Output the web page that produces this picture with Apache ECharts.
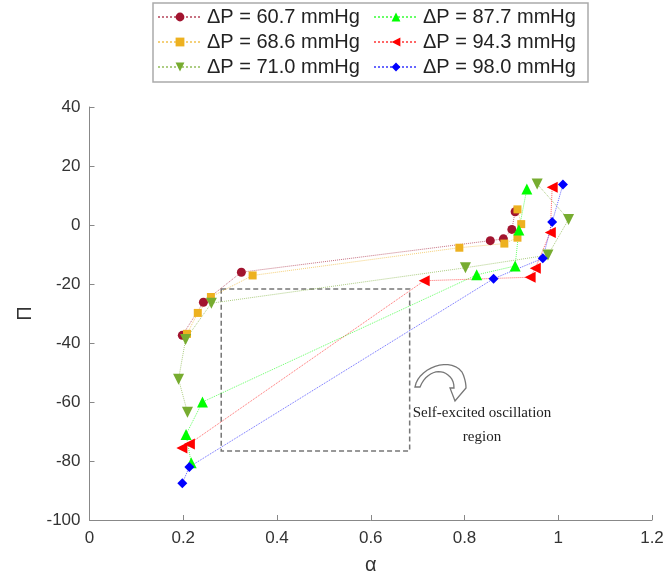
<!DOCTYPE html>
<html>
<head>
<meta charset="utf-8">
<script src="https://cdn.jsdelivr.net/npm/echarts@6/dist/echarts.min.js"></script>
<style>
html, body { margin: 0; padding: 0; background: #fff; }
#chart { width: 665px; height: 580px; }
</style>
</head>
<body>
<div id="chart"></div>
<script>
var names = ['ΔP = 60.7 mmHg', 'ΔP = 68.6 mmHg', 'ΔP = 71.0 mmHg', 'ΔP = 87.7 mmHg', 'ΔP = 94.3 mmHg', 'ΔP = 98.0 mmHg'];

var alpha60 = [0.198, 0.243, 0.324, 0.855, 0.883, 0.901, 0.908];
var pi60 = [-37.4, -26.2, -16.0, -5.3, -4.7, -1.5, 4.5];

var alpha68 = [0.208, 0.231, 0.259, 0.348, 0.789, 0.885, 0.913, 0.921, 0.913];
var pi68 = [-36.9, -29.8, -24.4, -17.1, -7.7, -6.3, -4.3, 0.3, 5.3];

var alpha71 = [0.209, 0.190, 0.205, 0.260, 0.802, 0.978, 1.022, 0.955];
var pi71 = [-63.5, -52.3, -38.8, -26.5, -14.5, -10.2, 1.9, 13.9];

var alpha87 = [0.217, 0.206, 0.241, 0.826, 0.908, 0.916, 0.933];
var pi87 = [-80.6, -71.0, -60.0, -16.9, -13.9, -1.7, 12.2];

var alpha94 = [0.197, 0.213, 0.714, 0.940, 0.951, 0.983, 0.987];
var pi94 = [-75.6, -74.2, -18.9, -17.7, -14.7, -2.5, 12.8];

var alpha98 = [0.198, 0.213, 0.862, 0.967, 0.987, 1.010];
var pi98 = [-87.5, -82.0, -18.2, -11.3, 1.0, 13.7];

// dashed box of the self-excited region [alpha, pi]
var regionBox = [[0.281, -21.7], [0.683, -76.6]];

var colors = ['#A2142F', '#EDB120', '#77AC30', '#00FF00', '#FF0000', '#0000FF'];
var symbols = ['circle', 'rect', 'triangle', 'triangle', 'triangle', 'diamond'];
var rotates = [0, 0, 180, 0, 90, 0];
var sizes = [9, 8, 11, 11, 11, 10];
var xs = [alpha60, alpha68, alpha71, alpha87, alpha94, alpha98];
var ys = [pi60, pi68, pi71, pi87, pi94, pi98];

var font = '"Liberation Sans", Arial, sans-serif';

// outline of the curved arrow icon, sampled from a few bezier pieces
function bez(p0, p1, p2, p3, n) {
    var pts = [];
    for (var k = 1; k <= n; k++) {
        var t = k / n, u = 1 - t;
        pts.push([
            u * u * u * p0[0] + 3 * u * u * t * p1[0] + 3 * u * t * t * p2[0] + t * t * t * p3[0],
            u * u * u * p0[1] + 3 * u * u * t * p1[1] + 3 * u * t * t * p2[1] + t * t * t * p3[1]
        ]);
    }
    return pts;
}
var arrowPts = [[415, 387]]
    .concat(bez([415, 387], [418, 368], [450, 356], [462, 372], 14))
    .concat(bez([462, 372], [465, 378], [466, 384], [466, 388], 5))
    .concat([[455, 401], [450, 388], [454, 388]])
    .concat(bez([454, 388], [454, 382], [452, 378], [448, 375], 5))
    .concat(bez([448, 375], [440, 368], [426, 372], [420, 387], 12));

var series = names.map(function (n, i) {
    return {
        name: n,
        type: 'line',
        data: xs[i].map(function (a, j) { return [a, ys[i][j]]; }),
        symbol: symbols[i],
        symbolRotate: rotates[i],
        symbolSize: sizes[i],
        showAllSymbol: true,
        itemStyle: { color: colors[i] },
        lineStyle: { color: colors[i], width: 1, type: 'dotted', opacity: 0.6 },
        emphasis: { disabled: true },
        z: 2
    };
});
series[0].markArea = {
    silent: true,
    itemStyle: { color: 'rgba(0,0,0,0)', borderColor: '#777', borderWidth: 1.5, borderType: [5, 3] },
    data: [[{ coord: regionBox[0] }, { coord: regionBox[1] }]]
};

var legendBase = {
    orient: 'vertical',
    top: 7,
    padding: 0,
    itemWidth: 44,
    itemHeight: 11,
    itemGap: 5,
    textStyle: { fontFamily: font, fontSize: 20, color: '#222' }
};

var myChart = echarts.init(document.getElementById('chart'));
var option = {
    animation: false,
    backgroundColor: '#fff',
    legend: [
        Object.assign({ left: 157, data: names.slice(0, 3) }, legendBase),
        Object.assign({ left: 373, data: names.slice(3) }, legendBase)
    ],
    grid: { left: 89.5, right: 13, top: 107, bottom: 60, containLabel: false, outerBoundsMode: 'none' },
    xAxis: {
        type: 'value', min: 0, max: 1.2, interval: 0.2,
        name: 'α', nameLocation: 'middle', nameGap: 35,
        nameTextStyle: { fontFamily: font, fontSize: 20, color: '#333' },
        axisLine: { onZero: false, lineStyle: { color: '#888', width: 1 } },
        axisTick: { inside: true, length: 5, lineStyle: { color: '#888' } },
        axisLabel: { fontFamily: font, fontSize: 17, color: '#333', margin: 10 },
        splitLine: { show: false }
    },
    yAxis: {
        type: 'value', min: -100, max: 40, interval: 20,
        name: 'Π', nameLocation: 'middle', nameGap: 46,
        nameTextStyle: { fontFamily: font, fontSize: 20, color: '#333' },
        axisLine: { show: true, onZero: false, lineStyle: { color: '#888', width: 1 } },
        axisTick: { show: true, inside: true, length: 5, lineStyle: { color: '#888' } },
        axisLabel: { fontFamily: font, fontSize: 17, color: '#333', margin: 9 },
        splitLine: { show: false }
    },
    graphic: [
        {
            type: 'rect', z: -1,
            shape: { x: 153, y: 3, width: 435, height: 79 },
            style: { fill: '#fff', stroke: '#aaa', lineWidth: 1.5 }
        },
        {
            type: 'polygon',
            shape: { points: arrowPts },
            style: { fill: 'none', stroke: '#777', lineWidth: 1.3 }
        },
        {
            type: 'text', x: 482, y: 413,
            style: { text: 'Self-excited oscillation', font: '15px "Liberation Serif", "Times New Roman", serif', fill: '#222', align: 'center', verticalAlign: 'middle' }
        },
        {
            type: 'text', x: 482, y: 437,
            style: { text: 'region', font: '15px "Liberation Serif", "Times New Roman", serif', fill: '#222', align: 'center', verticalAlign: 'middle' }
        }
    ],
    series: series
};
myChart.setOption(option);
</script>
</body>
</html>
